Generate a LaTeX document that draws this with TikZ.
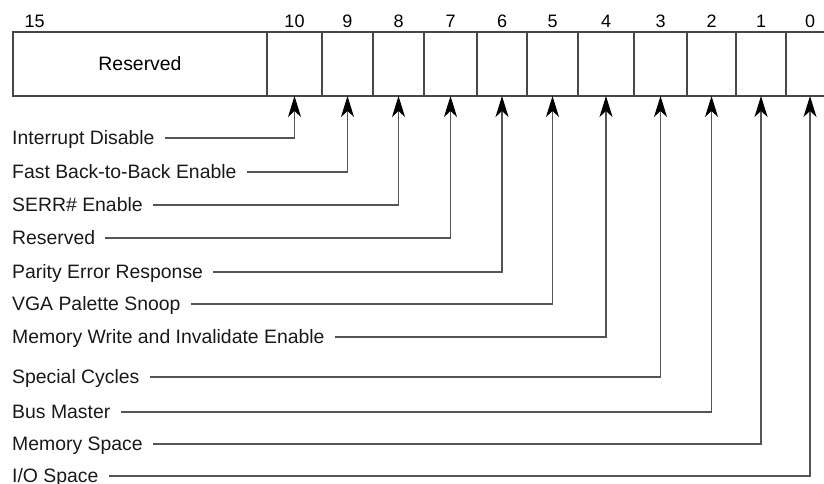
\documentclass[tikz,border=0pt]{standalone}
\usepackage{fontspec}
\setmainfont{Liberation Sans}
\usetikzlibrary{arrows.meta}
\definecolor{boxline}{HTML}{474747}
\definecolor{wire}{HTML}{555555}
\begin{document}
\begin{tikzpicture}[x=1pt,y=-1pt,
  cell/.style={draw=boxline, line width=1.6pt, minimum height=64pt,
    inner sep=0pt, outer sep=0pt, anchor=north west},
  bitnum/.style={font=\fontsize{18}{20}\selectfont, anchor=base},
  lbl/.style={font=\fontsize{19.4}{22}\selectfont, anchor=west, inner xsep=0pt,
    inner ysep=0pt, text height=13.9pt, text depth=0pt, text=black!90},
  conn/.style={draw=wire, line width=1.5pt,
    -{Stealth[length=21pt,width=13pt,inset=6pt,color=black]}},
]
\path[use as bounding box] (0,0) rectangle (824,483);
\clip (0,0) rectangle (824,483);

% register cells
\node[cell, minimum width=254pt] (res) at (13,32) {\fontsize{19.4}{22}\selectfont Reserved};
\node[cell, minimum width=55pt] (b10) at (267,32) {};
\node[cell, minimum width=51pt] (b9)  at (322,32) {};
\node[cell, minimum width=51pt] (b8)  at (373,32) {};
\node[cell, minimum width=53pt] (b7)  at (424,32) {};
\node[cell, minimum width=50pt] (b6)  at (477,32) {};
\node[cell, minimum width=51pt] (b5)  at (527,32) {};
\node[cell, minimum width=56pt] (b4)  at (578,32) {};
\node[cell, minimum width=53pt] (b3)  at (634,32) {};
\node[cell, minimum width=49pt] (b2)  at (687,32) {};
\node[cell, minimum width=50pt] (b1)  at (736,32) {};
\node[cell, minimum width=48pt] (b0)  at (786,32) {};

% bit numbers
\node[bitnum, anchor=base west] (n15) at (21,27) {15};
\foreach \b in {10,9,...,0}
  \node[bitnum] (n\b) at (b\b.north |- 0,27) {\b};

% field names
\node[lbl] (l10) at (12,138) {Interrupt Disable};
\node[lbl] (l9)  at (12,172) {Fast Back-to-Back Enable};
\node[lbl] (l8)  at (12,205) {SERR\# Enable};
\node[lbl] (l7)  at (12,238) {Reserved};
\node[lbl] (l6)  at (12,272) {Parity Error Response};
\node[lbl] (l5)  at (12,304) {VGA Palette Snoop};
\node[lbl] (l4)  at (12,337) {Memory Write and Invalidate Enable};
\node[lbl] (l3)  at (12,377) {Special Cycles};
\node[lbl] (l2)  at (12,412) {Bus Master};
\node[lbl] (l1)  at (12,444) {Memory Space};
\node[lbl] (l0)  at (12,476) {I/O Space};

% leader lines to the bits
\foreach \b in {10,9,...,0}
  \draw[conn] ([xshift=10pt]l\b.east) -| (b\b.south);
\end{tikzpicture}
\end{document}
